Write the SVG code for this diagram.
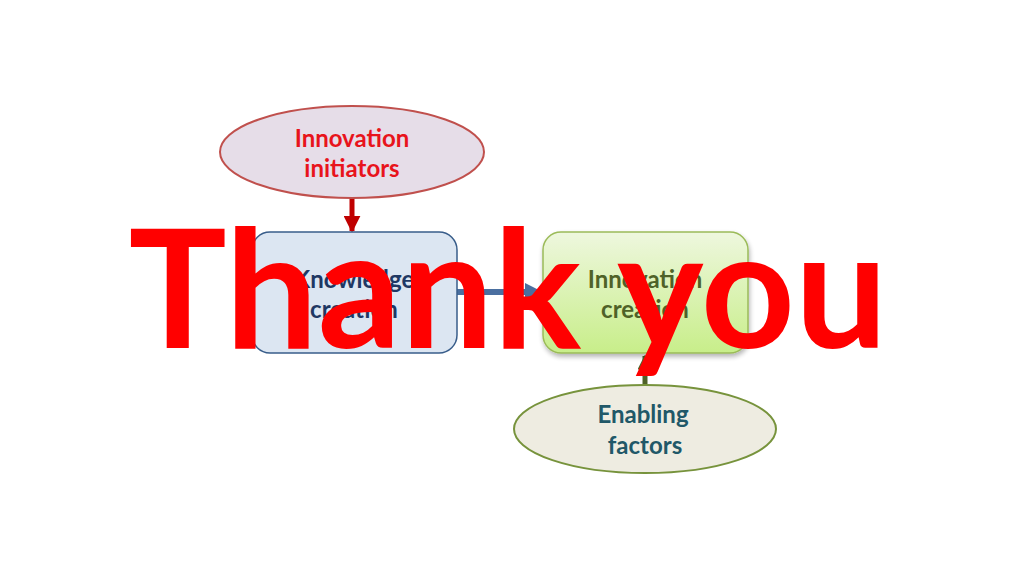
<svg xmlns="http://www.w3.org/2000/svg" width="1024" height="575" viewBox="0 0 1024 575">
<defs>
<linearGradient id="gGreen" x1="0" y1="0" x2="0" y2="1">
<stop offset="0" stop-color="#eef7de"/>
<stop offset="1" stop-color="#c8ee8a"/>
</linearGradient>
<filter id="sh" x="-10%" y="-10%" width="130%" height="130%">
<feGaussianBlur in="SourceAlpha" stdDeviation="2.5"/>
<feOffset dx="1" dy="3" result="b"/>
<feComponentTransfer><feFuncA type="linear" slope="0.3"/></feComponentTransfer>
<feMerge><feMergeNode/><feMergeNode in="SourceGraphic"/></feMerge>
</filter>
<marker id="arRed" viewBox="0 0 10 10" refX="9" refY="5" markerWidth="3.4" markerHeight="3.4" orient="auto" markerUnits="strokeWidth">
<path d="M0,0 L10,5 L0,10 z" fill="#c00000"/>
</marker>
<marker id="arBlue" viewBox="0 0 10 10" refX="9" refY="5" markerWidth="3" markerHeight="3" orient="auto" markerUnits="strokeWidth">
<path d="M0,0 L10,5 L0,10 z" fill="#4a6fa0"/>
</marker>
<marker id="arGreen" viewBox="0 0 10 10" refX="9" refY="5" markerWidth="3" markerHeight="3" orient="auto" markerUnits="strokeWidth">
<path d="M0,0 L10,5 L0,10 z" fill="#4f6228"/>
</marker>
</defs>
<style>
text { font-family: Lato, "Open Sans", "Liberation Sans", sans-serif; font-weight: bold; text-anchor: middle; }
.lbl { font-size: 24px; }
</style>
<rect width="1024" height="575" fill="#ffffff"/>
<g id="connectors">
<line x1="352" y1="198" x2="352" y2="231" stroke="#c00000" stroke-width="5" marker-end="url(#arRed)"/>
<line x1="457" y1="292" x2="541" y2="292" stroke="#4a6fa0" stroke-width="6" marker-end="url(#arBlue)"/>
<line x1="645" y1="384" x2="645" y2="356" stroke="#4f6228" stroke-width="5" marker-end="url(#arGreen)"/>
</g>
<g id="innovation-initiators">
<ellipse cx="352" cy="152" rx="132" ry="46" fill="#e6dde8" stroke="#c0504d" stroke-width="2"/>
<text class="lbl" x="352" y="147" fill="#e8141c">Innovation</text>
<text class="lbl" x="352" y="177" fill="#e8141c">initiators</text>
</g>
<g id="knowledge-creation">
<rect x="252" y="232" width="205" height="121" rx="18" fill="#dce6f2" stroke="#385d8a" stroke-width="1.5"/>
<text class="lbl" x="354" y="288" fill="#1f3864">Knowledge</text>
<text class="lbl" x="354" y="318" fill="#1f3864">creation</text>
</g>
<g id="innovation-creation">
<rect x="543" y="232" width="205" height="121" rx="18" fill="url(#gGreen)" stroke="#9bbb59" stroke-width="1.5" filter="url(#sh)"/>
<text class="lbl" x="645" y="288" fill="#4f6228">Innovation</text>
<text class="lbl" x="645" y="318" fill="#4f6228">creation</text>
</g>
<g id="enabling-factors">
<ellipse cx="645" cy="429" rx="131" ry="44" fill="#eeece1" stroke="#77933c" stroke-width="2"/>
<text class="lbl" x="643" y="423" fill="#215868">Enabling</text>
<text class="lbl" x="645" y="454" fill="#215868">factors</text>
</g>
<g id="thank-you">
<text x="508" y="348" font-size="164" fill="#ff0000">Thank you</text>
</g>
</svg>
